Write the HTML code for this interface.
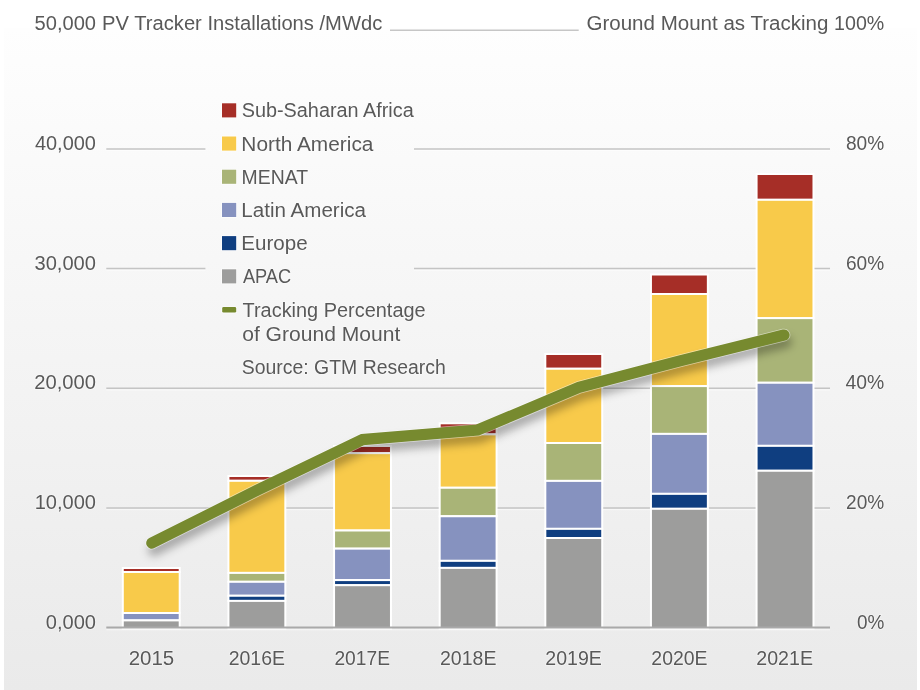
<!DOCTYPE html>
<html><head><meta charset="utf-8"><style>
html,body{margin:0;padding:0;background:#fff;width:920px;height:690px;overflow:hidden}
svg{display:block;will-change:transform}
text{font-family:"Liberation Sans", sans-serif;fill:#595959;stroke:#fff;stroke-opacity:0.45;stroke-width:1.6px;paint-order:stroke}
</style></head><body><svg width="920" height="690" viewBox="0 0 920 690" font-family='"Liberation Sans", sans-serif' fill="#595959"><rect x="0" y="0" width="920" height="690" fill="#ffffff"/><defs><linearGradient id="bg" x1="0" y1="0" x2="0" y2="1"><stop offset="0" stop-color="#fefefe"/><stop offset="1" stop-color="#eaeaea"/></linearGradient><filter id="sh" x="-10%" y="-50%" width="130%" height="200%"><feGaussianBlur stdDeviation="4"/></filter></defs><rect x="4" y="28" width="913" height="662" fill="url(#bg)"/><line x1="390" y1="30.3" x2="578.7" y2="30.3" stroke="#c6c6c6" stroke-width="1.4"/><line x1="106.3" y1="150.6" x2="205.4" y2="150.6" stroke="#ffffff" stroke-width="1.0" stroke-opacity="0.6"/><line x1="106.3" y1="148.9" x2="205.4" y2="148.9" stroke="#c4c4c4" stroke-width="1.5"/><line x1="414" y1="150.6" x2="830" y2="150.6" stroke="#ffffff" stroke-width="1.0" stroke-opacity="0.6"/><line x1="414" y1="148.9" x2="830" y2="148.9" stroke="#c4c4c4" stroke-width="1.5"/><line x1="106.3" y1="270.2" x2="205.4" y2="270.2" stroke="#ffffff" stroke-width="1.0" stroke-opacity="0.6"/><line x1="106.3" y1="268.5" x2="205.4" y2="268.5" stroke="#c4c4c4" stroke-width="1.5"/><line x1="414" y1="270.2" x2="830" y2="270.2" stroke="#ffffff" stroke-width="1.0" stroke-opacity="0.6"/><line x1="414" y1="268.5" x2="830" y2="268.5" stroke="#c4c4c4" stroke-width="1.5"/><line x1="106.3" y1="390.0" x2="830" y2="390.0" stroke="#ffffff" stroke-width="1.0" stroke-opacity="0.6"/><line x1="106.3" y1="388.3" x2="830" y2="388.3" stroke="#c4c4c4" stroke-width="1.5"/><line x1="106.3" y1="509.7" x2="830" y2="509.7" stroke="#ffffff" stroke-width="1.0" stroke-opacity="0.6"/><line x1="106.3" y1="508.0" x2="830" y2="508.0" stroke="#c4c4c4" stroke-width="1.5"/><rect x="122.80" y="568.00" width="56.90" height="4.00" fill="#a62e27" stroke="#ffffff" stroke-width="2"/><rect x="122.80" y="572.00" width="56.90" height="41.00" fill="#f8ca4a" stroke="#ffffff" stroke-width="2"/><rect x="122.80" y="613.00" width="56.90" height="7.40" fill="#8692bf" stroke="#ffffff" stroke-width="2"/><rect x="122.80" y="620.40" width="56.90" height="8.20" fill="#9d9d9c" stroke="#ffffff" stroke-width="2"/><rect x="228.43" y="476.00" width="56.90" height="4.80" fill="#a62e27" stroke="#ffffff" stroke-width="2"/><rect x="228.43" y="480.80" width="56.90" height="92.10" fill="#f8ca4a" stroke="#ffffff" stroke-width="2"/><rect x="228.43" y="572.90" width="56.90" height="8.90" fill="#a9b477" stroke="#ffffff" stroke-width="2"/><rect x="228.43" y="581.80" width="56.90" height="13.95" fill="#8692bf" stroke="#ffffff" stroke-width="2"/><rect x="228.43" y="595.75" width="56.90" height="5.15" fill="#0f3e80" stroke="#ffffff" stroke-width="2"/><rect x="228.43" y="600.90" width="56.90" height="27.70" fill="#9d9d9c" stroke="#ffffff" stroke-width="2"/><rect x="334.06" y="446.00" width="56.90" height="7.15" fill="#a62e27" stroke="#ffffff" stroke-width="2"/><rect x="334.06" y="453.15" width="56.90" height="77.35" fill="#f8ca4a" stroke="#ffffff" stroke-width="2"/><rect x="334.06" y="530.50" width="56.90" height="18.15" fill="#a9b477" stroke="#ffffff" stroke-width="2"/><rect x="334.06" y="548.65" width="56.90" height="31.45" fill="#8692bf" stroke="#ffffff" stroke-width="2"/><rect x="334.06" y="580.10" width="56.90" height="5.10" fill="#0f3e80" stroke="#ffffff" stroke-width="2"/><rect x="334.06" y="585.20" width="56.90" height="43.40" fill="#9d9d9c" stroke="#ffffff" stroke-width="2"/><rect x="439.69" y="423.30" width="56.90" height="11.05" fill="#a62e27" stroke="#ffffff" stroke-width="2"/><rect x="439.69" y="434.35" width="56.90" height="53.40" fill="#f8ca4a" stroke="#ffffff" stroke-width="2"/><rect x="439.69" y="487.75" width="56.90" height="28.50" fill="#a9b477" stroke="#ffffff" stroke-width="2"/><rect x="439.69" y="516.25" width="56.90" height="44.60" fill="#8692bf" stroke="#ffffff" stroke-width="2"/><rect x="439.69" y="560.85" width="56.90" height="7.05" fill="#0f3e80" stroke="#ffffff" stroke-width="2"/><rect x="439.69" y="567.90" width="56.90" height="60.70" fill="#9d9d9c" stroke="#ffffff" stroke-width="2"/><rect x="545.32" y="354.00" width="56.90" height="14.75" fill="#a62e27" stroke="#ffffff" stroke-width="2"/><rect x="545.32" y="368.75" width="56.90" height="74.25" fill="#f8ca4a" stroke="#ffffff" stroke-width="2"/><rect x="545.32" y="443.00" width="56.90" height="37.90" fill="#a9b477" stroke="#ffffff" stroke-width="2"/><rect x="545.32" y="480.90" width="56.90" height="47.95" fill="#8692bf" stroke="#ffffff" stroke-width="2"/><rect x="545.32" y="528.85" width="56.90" height="9.15" fill="#0f3e80" stroke="#ffffff" stroke-width="2"/><rect x="545.32" y="538.00" width="56.90" height="90.60" fill="#9d9d9c" stroke="#ffffff" stroke-width="2"/><rect x="650.95" y="274.50" width="56.90" height="19.50" fill="#a62e27" stroke="#ffffff" stroke-width="2"/><rect x="650.95" y="294.00" width="56.90" height="92.10" fill="#f8ca4a" stroke="#ffffff" stroke-width="2"/><rect x="650.95" y="386.10" width="56.90" height="47.80" fill="#a9b477" stroke="#ffffff" stroke-width="2"/><rect x="650.95" y="433.90" width="56.90" height="59.95" fill="#8692bf" stroke="#ffffff" stroke-width="2"/><rect x="650.95" y="493.85" width="56.90" height="14.95" fill="#0f3e80" stroke="#ffffff" stroke-width="2"/><rect x="650.95" y="508.80" width="56.90" height="119.80" fill="#9d9d9c" stroke="#ffffff" stroke-width="2"/><rect x="756.58" y="174.00" width="56.90" height="25.80" fill="#a62e27" stroke="#ffffff" stroke-width="2"/><rect x="756.58" y="199.80" width="56.90" height="118.35" fill="#f8ca4a" stroke="#ffffff" stroke-width="2"/><rect x="756.58" y="318.15" width="56.90" height="64.60" fill="#a9b477" stroke="#ffffff" stroke-width="2"/><rect x="756.58" y="382.75" width="56.90" height="63.10" fill="#8692bf" stroke="#ffffff" stroke-width="2"/><rect x="756.58" y="445.85" width="56.90" height="24.90" fill="#0f3e80" stroke="#ffffff" stroke-width="2"/><rect x="756.58" y="470.75" width="56.90" height="157.85" fill="#9d9d9c" stroke="#ffffff" stroke-width="2"/><line x1="106.3" y1="629.8" x2="830" y2="629.8" stroke="#ffffff" stroke-width="1.0" stroke-opacity="0.6"/><line x1="106.3" y1="627.5" x2="830" y2="627.5" stroke="#a9a9a9" stroke-width="2"/><path d="M151.8,543.1 L257,490.3 L362.5,439.6 L477.7,430 L579,387.4 L680,360.8 L784,335" fill="none" stroke="#000" stroke-opacity="0.3" stroke-width="12" stroke-linecap="round" stroke-linejoin="miter" transform="translate(2,7)" filter="url(#sh)"/><path d="M151.8,543.1 L257,490.3 L362.5,439.6 L477.7,430 L579,387.4 L680,360.8 L784,335" fill="none" stroke="#fff" stroke-opacity="0.5" stroke-width="12.7" stroke-linecap="round" stroke-linejoin="miter"/><path d="M151.8,543.1 L257,490.3 L362.5,439.6 L477.7,430 L579,387.4 L680,360.8 L784,335" fill="none" stroke="#778a2f" stroke-width="11.2" stroke-linecap="round" stroke-linejoin="miter"/><rect x="221.2" y="102.50" width="15.8" height="15.7" fill="#fff" fill-opacity="0.7"/><rect x="222" y="103.30" width="14.2" height="14.1" fill="#a62e27"/><rect x="221.2" y="135.70" width="15.8" height="15.7" fill="#fff" fill-opacity="0.7"/><rect x="222" y="136.50" width="14.2" height="14.1" fill="#f8ca4a"/><rect x="221.2" y="168.90" width="15.8" height="15.7" fill="#fff" fill-opacity="0.7"/><rect x="222" y="169.70" width="14.2" height="14.1" fill="#a9b477"/><rect x="221.2" y="202.10" width="15.8" height="15.7" fill="#fff" fill-opacity="0.7"/><rect x="222" y="202.90" width="14.2" height="14.1" fill="#8692bf"/><rect x="221.2" y="235.30" width="15.8" height="15.7" fill="#fff" fill-opacity="0.7"/><rect x="222" y="236.10" width="14.2" height="14.1" fill="#0f3e80"/><rect x="221.2" y="268.50" width="15.8" height="15.7" fill="#fff" fill-opacity="0.7"/><rect x="222" y="269.30" width="14.2" height="14.1" fill="#9d9d9c"/><rect x="221.2" y="306.4" width="15.8" height="7.1" rx="2" fill="#fff" fill-opacity="0.7"/><rect x="222.2" y="307.1" width="14" height="5.4" rx="1.3" fill="#778a2f"/><text x="34.55" y="30.10" font-size="19.5" textLength="61.44" lengthAdjust="spacingAndGlyphs">50,000</text><text x="34.90" y="149.80" font-size="19.5" textLength="61.08" lengthAdjust="spacingAndGlyphs">40,000</text><text x="34.48" y="269.50" font-size="19.5" textLength="61.52" lengthAdjust="spacingAndGlyphs">30,000</text><text x="34.24" y="389.20" font-size="19.5" textLength="61.77" lengthAdjust="spacingAndGlyphs">20,000</text><text x="34.70" y="508.90" font-size="19.5" textLength="61.32" lengthAdjust="spacingAndGlyphs">10,000</text><text x="45.76" y="628.60" font-size="19.5" textLength="50.24" lengthAdjust="spacingAndGlyphs">0,000</text><text x="102.11" y="30.10" font-size="19.5" textLength="280.14" lengthAdjust="spacingAndGlyphs">PV Tracker Installations /MWdc</text><text x="586.47" y="30.10" font-size="19.5" textLength="241.99" lengthAdjust="spacingAndGlyphs">Ground Mount as Tracking</text><text x="834.04" y="30.10" font-size="19.5" textLength="50.23" lengthAdjust="spacingAndGlyphs">100%</text><text x="845.98" y="149.80" font-size="19.5" textLength="38.28" lengthAdjust="spacingAndGlyphs">80%</text><text x="846.00" y="269.50" font-size="19.5" textLength="38.22" lengthAdjust="spacingAndGlyphs">60%</text><text x="845.57" y="389.20" font-size="19.5" textLength="38.80" lengthAdjust="spacingAndGlyphs">40%</text><text x="846.06" y="508.90" font-size="19.5" textLength="38.18" lengthAdjust="spacingAndGlyphs">20%</text><text x="856.96" y="628.60" font-size="19.5" textLength="27.38" lengthAdjust="spacingAndGlyphs">0%</text><text x="241.72" y="117.40" font-size="19.5" textLength="171.97" lengthAdjust="spacingAndGlyphs">Sub-Saharan Africa</text><text x="241.37" y="150.60" font-size="19.5" textLength="132.04" lengthAdjust="spacingAndGlyphs">North America</text><text x="241.57" y="183.80" font-size="19.5" textLength="66.48" lengthAdjust="spacingAndGlyphs">MENAT</text><text x="241.34" y="217.00" font-size="19.5" textLength="124.70" lengthAdjust="spacingAndGlyphs">Latin America</text><text x="241.32" y="250.20" font-size="19.5" textLength="66.32" lengthAdjust="spacingAndGlyphs">Europe</text><text x="242.92" y="283.40" font-size="19.5" textLength="48.26" lengthAdjust="spacingAndGlyphs">APAC</text><text x="242.56" y="317.30" font-size="19.5" textLength="183.10" lengthAdjust="spacingAndGlyphs">Tracking Percentage</text><text x="242.20" y="341.00" font-size="19.5" textLength="158.16" lengthAdjust="spacingAndGlyphs">of Ground Mount</text><text x="241.80" y="373.80" font-size="19.5" textLength="204.00" lengthAdjust="spacingAndGlyphs">Source: GTM Research</text><text x="128.67" y="665.00" font-size="19.5" textLength="45.56" lengthAdjust="spacingAndGlyphs">2015</text><text x="228.64" y="665.00" font-size="19.5" textLength="56.36" lengthAdjust="spacingAndGlyphs">2016E</text><text x="334.43" y="665.00" font-size="19.5" textLength="55.56" lengthAdjust="spacingAndGlyphs">2017E</text><text x="440.00" y="665.00" font-size="19.5" textLength="56.41" lengthAdjust="spacingAndGlyphs">2018E</text><text x="545.30" y="665.00" font-size="19.5" textLength="56.53" lengthAdjust="spacingAndGlyphs">2019E</text><text x="651.33" y="665.00" font-size="19.5" textLength="56.16" lengthAdjust="spacingAndGlyphs">2020E</text><text x="756.29" y="665.00" font-size="19.5" textLength="56.72" lengthAdjust="spacingAndGlyphs">2021E</text></svg></body></html>
